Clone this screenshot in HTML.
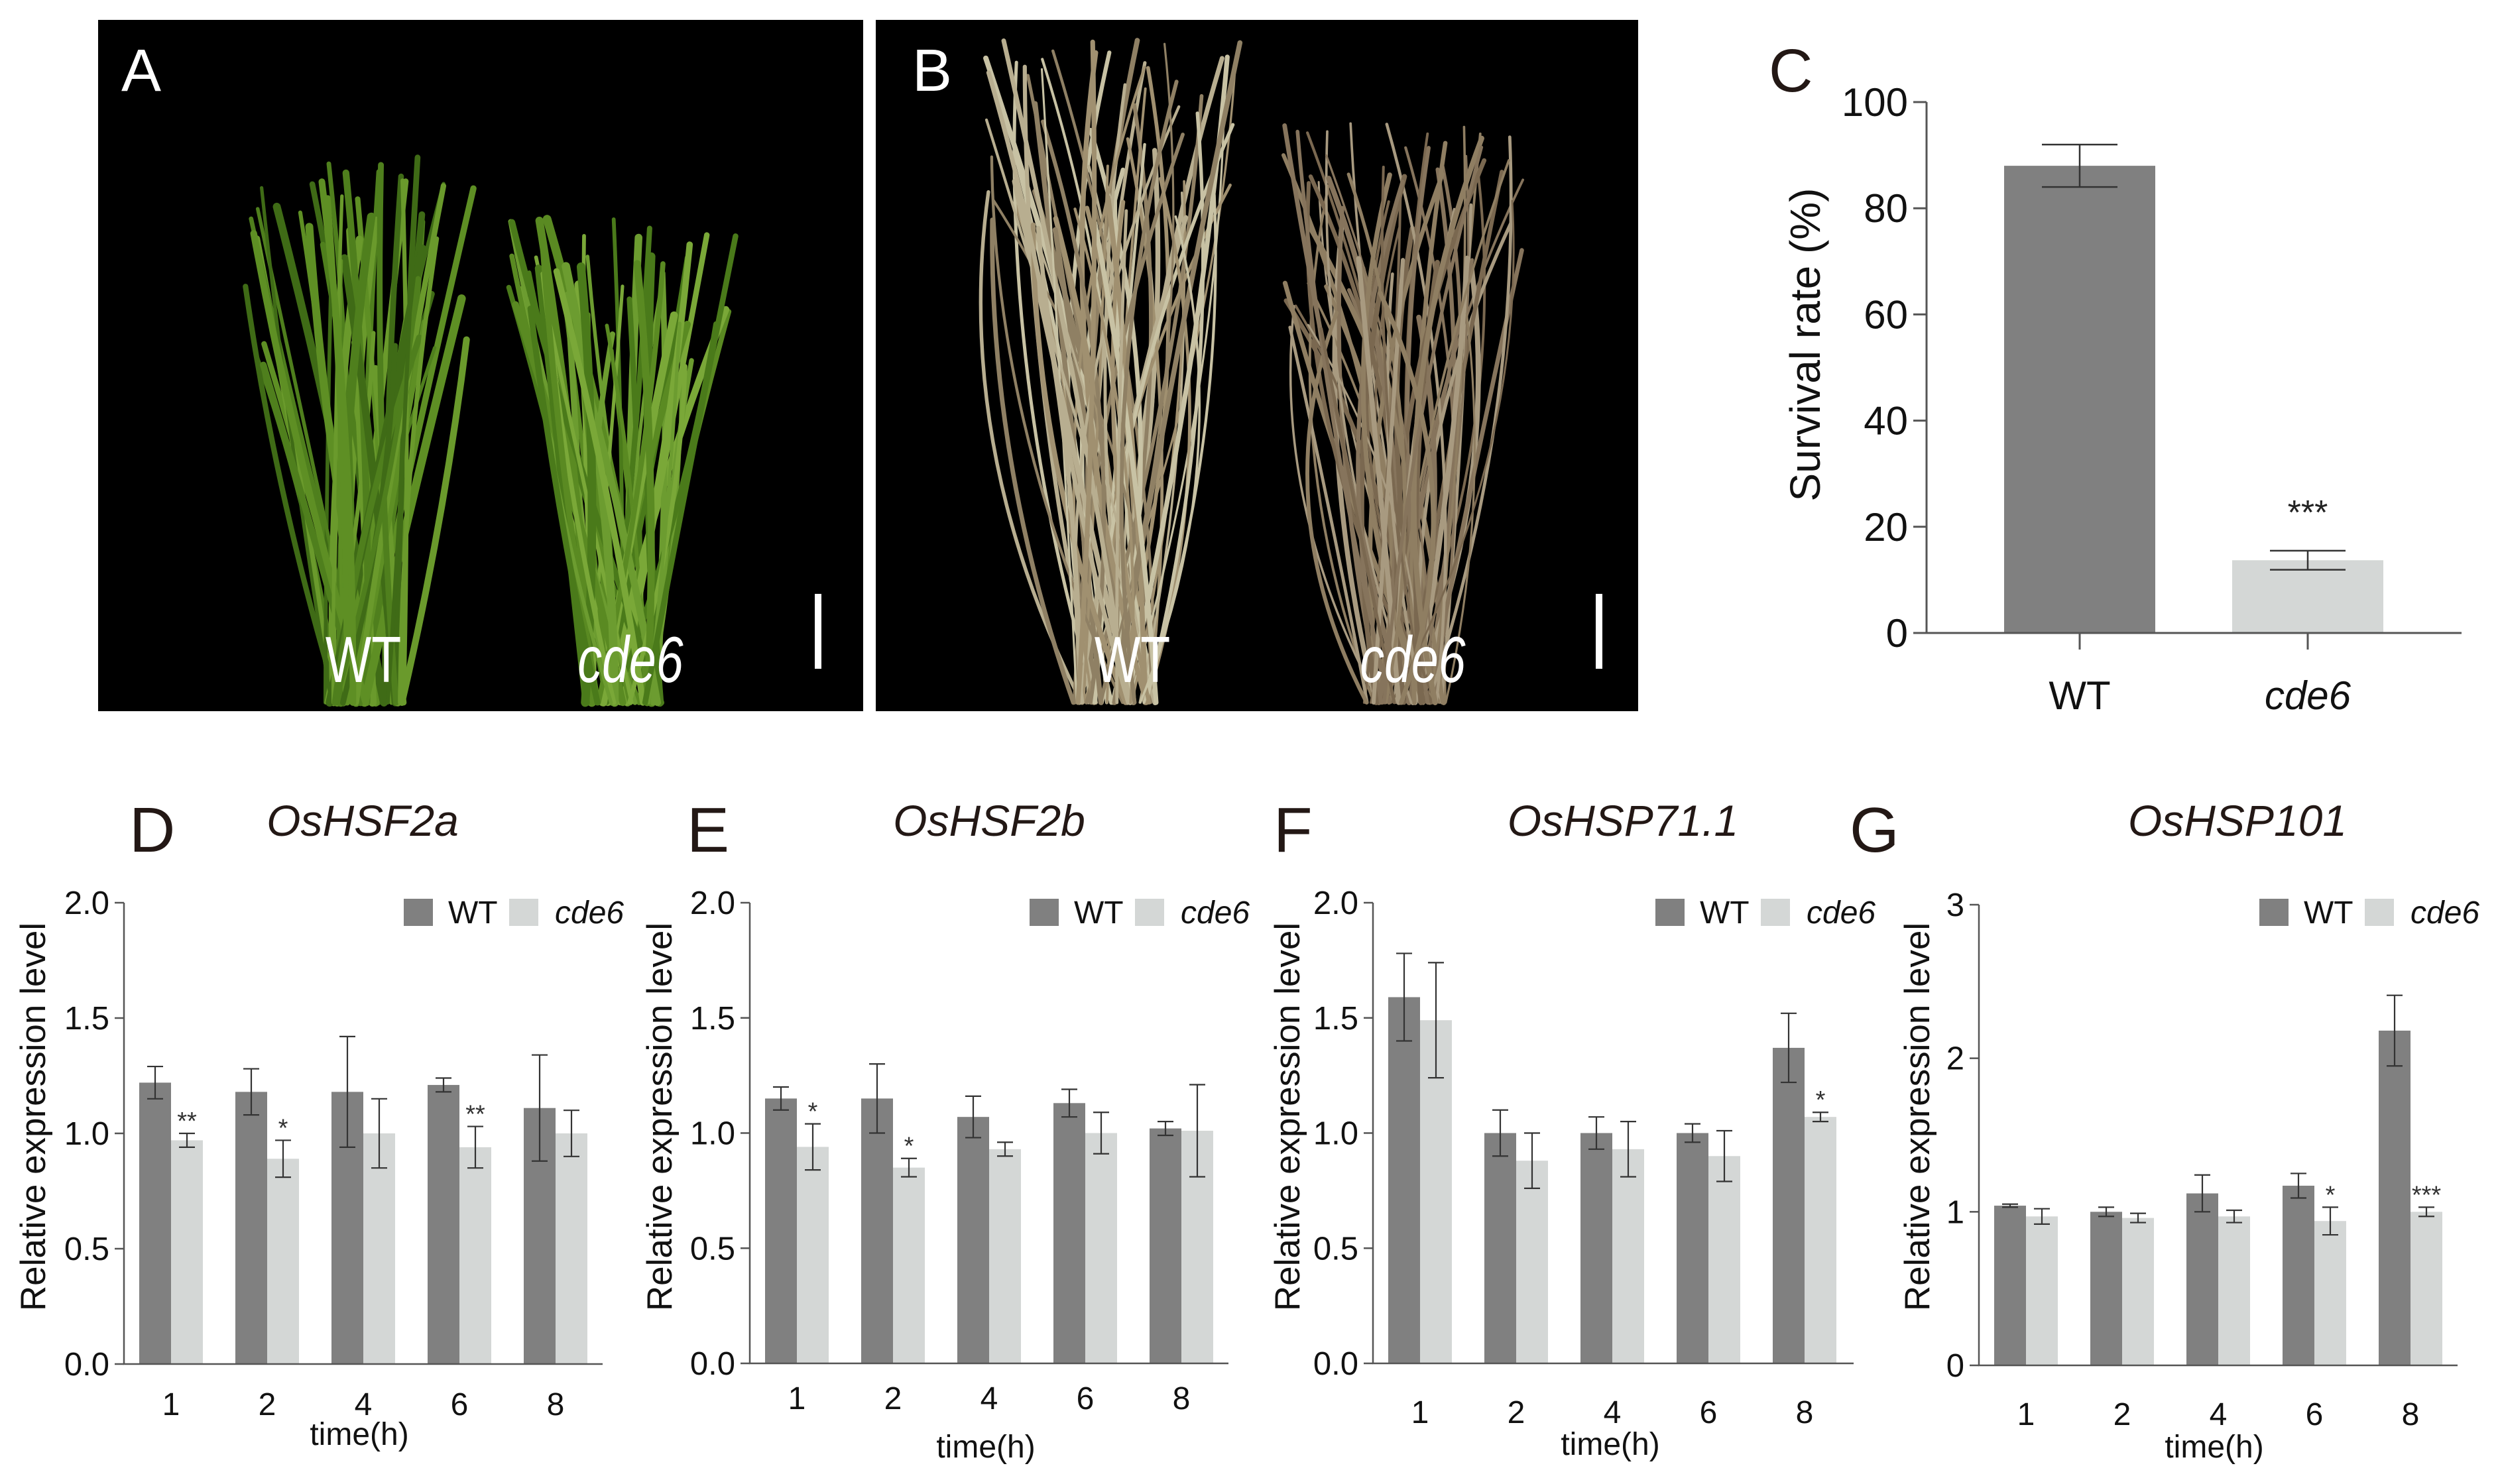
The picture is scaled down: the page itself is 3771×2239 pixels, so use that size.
<!DOCTYPE html>
<html><head><meta charset="utf-8"><style>
html,body{margin:0;padding:0;background:#fff;}
svg{display:block;font-family:"Liberation Sans",Arial,sans-serif;}
</style></head><body>
<svg id="fig" xmlns="http://www.w3.org/2000/svg" width="3771" height="2239" viewBox="0 0 3771 2239">
<g id="photos">
  <rect x="148" y="30" width="1154" height="1043" fill="#000"/>
  <rect x="1321" y="30" width="1150" height="1043" fill="#000"/>
  <g id="plantsA"></g><g id="plantsB"></g>
  <text x="183" y="137" font-size="90" fill="#fff">A</text>
  <text x="1376" y="137" font-size="90" fill="#fff">B</text>
  <text transform="translate(548,1029) scale(0.75,1)" text-anchor="middle" font-size="98" fill="#fff">WT</text>
  <text transform="translate(951,1029) scale(0.75,1)" text-anchor="middle" font-size="98" font-style="italic" fill="#fff">cde6</text>
  <rect x="1229" y="896" width="10" height="113" fill="#fff"/>
  <text transform="translate(1708,1029) scale(0.75,1)" text-anchor="middle" font-size="98" fill="#fff">WT</text>
  <text transform="translate(2131,1029) scale(0.75,1)" text-anchor="middle" font-size="98" font-style="italic" fill="#fff">cde6</text>
  <rect x="2407" y="896" width="10" height="113" fill="#fff"/>
</g>
<g id="chartC"></g>
<g id="charts"></g>
</svg>
<script>
// ---- Panel C data ----
const cCategories = ["WT", "cde6"];
const cValues = [88, 13.7];
const cErrors = [4, 1.8];
const cStars = ["", "***"];
const cTicks = [0, 20, 40, 60, 80, 100];

// ---- Panel D-G data ----
const timeLabels = ["1", "2", "4", "6", "8"];
const dWT = [1.22, 1.18, 1.18, 1.21, 1.11];
const dWTerr = [0.07, 0.10, 0.24, 0.03, 0.23];
const dMut = [0.97, 0.89, 1.00, 0.94, 1.00];
const dMuterr = [0.03, 0.08, 0.15, 0.09, 0.10];
const dStars = ["**", "*", "", "**", ""];
const eWT = [1.15, 1.15, 1.07, 1.13, 1.02];
const eWTerr = [0.05, 0.15, 0.09, 0.06, 0.03];
const eMut = [0.94, 0.85, 0.93, 1.00, 1.01];
const eMuterr = [0.10, 0.04, 0.03, 0.09, 0.20];
const eStars = ["*", "*", "", "", ""];
const fWT = [1.59, 1.00, 1.00, 1.00, 1.37];
const fWTerr = [0.19, 0.10, 0.07, 0.04, 0.15];
const fMut = [1.49, 0.88, 0.93, 0.90, 1.07];
const fMuterr = [0.25, 0.12, 0.12, 0.11, 0.02];
const fStars = ["", "", "", "", "*"];
const gWT = [1.04, 1.00, 1.12, 1.17, 2.18];
const gWTerr = [0.01, 0.03, 0.12, 0.08, 0.23];
const gMut = [0.97, 0.96, 0.97, 0.94, 1.00];
const gMuterr = [0.05, 0.03, 0.04, 0.09, 0.03];
const gStars = ["", "", "", "*", "***"];
const ticks2 = ["0.0", "0.5", "1.0", "1.5", "2.0"];
const ticks3 = ["0", "1", "2", "3"];

const NS = "http://www.w3.org/2000/svg";
function mk(parent, tag, attrs, text) {
  const el = document.createElementNS(NS, tag);
  for (const k in attrs) el.setAttribute(k, attrs[k]);
  if (text !== undefined) el.textContent = text;
  parent.appendChild(el);
  return el;
}
const WTC = "#808080", MUTC = "#d4d7d6", AX = "#555", ERR = "#333";

// ---- decorative plants ----
(function () {
  const pa = document.getElementById("plantsA");
  let s = 7;
  function rnd() { s = (s * 9301 + 49297) % 233280; return s / 233280; }
  function blades(g, cx, spread, topMin, topMax, n, cols, curl, wmin, wvar) {
    for (let i = 0; i < n; i++) {
      const bx = cx + (rnd() - 0.5) * spread * 0.5;
      const tx = cx + (rnd() - 0.5) * spread * 1.5;
      const ty = topMin + rnd() * (topMax - topMin);
      const mx = (bx + tx) / 2 + (rnd() - 0.5) * curl;
      const el = mk(g, "path", { d: `M${bx.toFixed(1)},1060 Q${mx.toFixed(1)},${((1060 + ty) / 2).toFixed(1)} ${tx.toFixed(1)},${ty.toFixed(1)}`, stroke: cols[i % cols.length], "stroke-width": (wmin + rnd() * wvar).toFixed(1), fill: "none", "stroke-linecap": "round" });
      
      
    }
  }
  blades(pa, 550, 240, 220, 560, 55, ["#4f7f1d", "#5e8f24", "#3f6b16", "#6a9a2c"], 60, 5, 8);
  blades(pa, 940, 230, 330, 560, 55, ["#5a8a22", "#6c9c30", "#4a7a1a", "#7aa838"], 80, 5, 8);
  const pb = document.getElementById("plantsB");
  blades(pb, 1680, 260, 60, 350, 70, ["#b8ae90", "#a09070", "#c8c2a4", "#8f8064"], 260, 3, 5);
  blades(pb, 2120, 250, 180, 500, 70, ["#8f7e62", "#7a6850", "#a89a80", "#86745c"], 260, 3, 5);
})();

// ---- Panel C ----
(function () {
  const g = document.getElementById("chartC");
  const x0 = 2906, y0 = 955, yTop = 154, xEnd = 3713;
  const ys = v => y0 - (v / 100) * (y0 - yTop);
  const centers = [3137, 3481], bw = 228;
  let t = mk(g, "text", { x: 2668, y: 138, "font-size": 92, fill: "#231815" }, "C");
  
  
  cCategories.forEach((c, i) => {
    const v = cValues[i], e = cErrors[i], cx = centers[i];
    let r = mk(g, "rect", { x: cx - bw / 2, y: ys(v), width: bw, height: y0 - ys(v), fill: i === 0 ? WTC : MUTC });
    
    
    let eb = mk(g, "path", { d: `M${cx},${ys(v + e)}V${ys(v - e)}M${cx - 57},${ys(v + e)}H${cx + 57}M${cx - 57},${ys(v - e)}H${cx + 57}`, stroke: ERR, "stroke-width": 2.5, fill: "none" });
    
    
    let tk = mk(g, "line", { x1: cx, y1: y0, x2: cx, y2: 980, stroke: AX, "stroke-width": 3 });
    
    
    let lb = mk(g, "text", { x: cx, y: 1070, "text-anchor": "middle", "font-size": 60, fill: "#111", "font-style": i === 1 ? "italic" : "normal" }, c);
    
    
    if (cStars[i]) {
      let st = mk(g, "text", { x: cx, y: ys(v + e) - 40, "text-anchor": "middle", "font-size": 52, fill: "#222" }, cStars[i]);
      
      
    }
  });
  let ax = mk(g, "path", { d: `M${x0},${yTop}V${y0}H${xEnd}`, stroke: AX, "stroke-width": 3, fill: "none" });
  
  
  cTicks.forEach(v => {
    let l = mk(g, "line", { x1: x0 - 20, y1: ys(v), x2: x0, y2: ys(v), stroke: AX, "stroke-width": 3 });
    
    
    let tt = mk(g, "text", { x: 2878, y: ys(v) + 21, "text-anchor": "end", "font-size": 60, fill: "#111" }, String(v));
    
    
  });
  let yl = mk(g, "text", { transform: "translate(2745,520) rotate(-90)", "text-anchor": "middle", "font-size": 64, fill: "#111" }, "Survival rate (%)");
  
  
})();

// ---- Panels D-G ----
function drawPanel(cfg) {
  const g = mk(document.getElementById("charts"), "g", {});
  
  
  const { ax, y0, yTop, xEnd, max } = cfg;
  const ys = v => y0 - (v / max) * (y0 - yTop);
  const bw = 48, step = 145, off = ax + 23;
  let t = mk(g, "text", { x: cfg.lx, y: 1285, "font-size": 96, fill: "#231815" }, cfg.letter);
  
  
  t = mk(g, "text", { x: cfg.tx, y: 1261, "text-anchor": "middle", "font-size": 66, "font-style": "italic", fill: "#231815" }, cfg.title);
  
  
  timeLabels.forEach((lab, i) => {
    const xw = off + i * step, xm = xw + bw;
    const series = [[cfg.wt[i], cfg.wte[i], xw, WTC], [cfg.mut[i], cfg.mute[i], xm, MUTC]];
    series.forEach((s, j) => {
      const [v, e, x, col] = s;
      let r = mk(g, "rect", { x: x, y: ys(v), width: bw, height: y0 - ys(v), fill: col });
      
      
      const cx = x + bw / 2;
      let eb = mk(g, "path", { d: `M${cx},${ys(v + e)}V${ys(v - e)}M${cx - 12},${ys(v + e)}H${cx + 12}M${cx - 12},${ys(v - e)}H${cx + 12}`, stroke: ERR, "stroke-width": 2.2, fill: "none" });
      
      
    });
    if (cfg.stars[i]) {
      const cx = xm + bw / 2;
      let st = mk(g, "text", { x: cx, y: ys(cfg.mut[i] + cfg.mute[i]) - 6, "text-anchor": "middle", "font-size": 38, fill: "#333" }, cfg.stars[i]);
      
      
    }
    let tl = mk(g, "text", { x: xm, y: cfg.tickY, "text-anchor": "middle", "font-size": 48, fill: "#111" }, lab);
    
    
  });
  let a = mk(g, "path", { d: `M${ax},${yTop}V${y0}H${xEnd}`, stroke: AX, "stroke-width": 2.5, fill: "none" });
  
  
  cfg.ticks.forEach(lab => {
    const v = parseFloat(lab);
    let l = mk(g, "line", { x1: ax - 14, y1: ys(v), x2: ax, y2: ys(v), stroke: AX, "stroke-width": 2.5 });
    
    
    let tt = mk(g, "text", { x: ax - 22, y: ys(v) + 17, "text-anchor": "end", "font-size": 49, fill: "#111" }, lab);
    
    
  });
  let xt = mk(g, "text", { x: cfg.xtX, y: cfg.xtY, "text-anchor": "middle", "font-size": 48, fill: "#111" }, "time(h)");
  
  
  let yl = mk(g, "text", { transform: `translate(${cfg.ylX},1685) rotate(-90)`, "text-anchor": "middle", "font-size": 53, fill: "#111" }, "Relative expression level");
  
  
  const lgx = cfg.legX;
  let r1 = mk(g, "rect", { x: lgx, y: 1356, width: 44, height: 41, fill: WTC });
  
  
  let l1 = mk(g, "text", { x: lgx + 67, y: 1393, "font-size": 48, fill: "#111" }, "WT");
  
  
  let r2 = mk(g, "rect", { x: lgx + 159, y: 1356, width: 44, height: 41, fill: MUTC });
  
  
  let l2 = mk(g, "text", { x: lgx + 228, y: 1393, "font-size": 48, "font-style": "italic", fill: "#111" }, "cde6");
  
  
}
drawPanel({ letter: "D", title: "OsHSF2a", lx: 195, tx: 547, ax: 187, y0: 2058, yTop: 1362, xEnd: 909, max: 2, ticks: ticks2, wt: dWT, wte: dWTerr, mut: dMut, mute: dMuterr, stars: dStars, tickY: 2135, xtX: 542, xtY: 2180, ylX: 68, legX: 609 });
drawPanel({ letter: "E", title: "OsHSF2b", lx: 1036, tx: 1492, ax: 1131, y0: 2057, yTop: 1362, xEnd: 1853, max: 2, ticks: ticks2, wt: eWT, wte: eWTerr, mut: eMut, mute: eMuterr, stars: eStars, tickY: 2126, xtX: 1487, xtY: 2199, ylX: 1013, legX: 1553 });
drawPanel({ letter: "F", title: "OsHSP71.1", lx: 1921, tx: 2448, ax: 2071, y0: 2057, yTop: 1362, xEnd: 2796, max: 2, ticks: ticks2, wt: fWT, wte: fWTerr, mut: fMut, mute: fMuterr, stars: fStars, tickY: 2147, xtX: 2429, xtY: 2195, ylX: 1960, legX: 2497 });
drawPanel({ letter: "G", title: "OsHSP101", lx: 2790, tx: 3375, ax: 2985, y0: 2060, yTop: 1365, xEnd: 3707, max: 3, ticks: ticks3, wt: gWT, wte: gWTerr, mut: gMut, mute: gMuterr, stars: gStars, tickY: 2150, xtX: 3340, xtY: 2199, ylX: 2910, legX: 3408 });
</script>
</body></html>
